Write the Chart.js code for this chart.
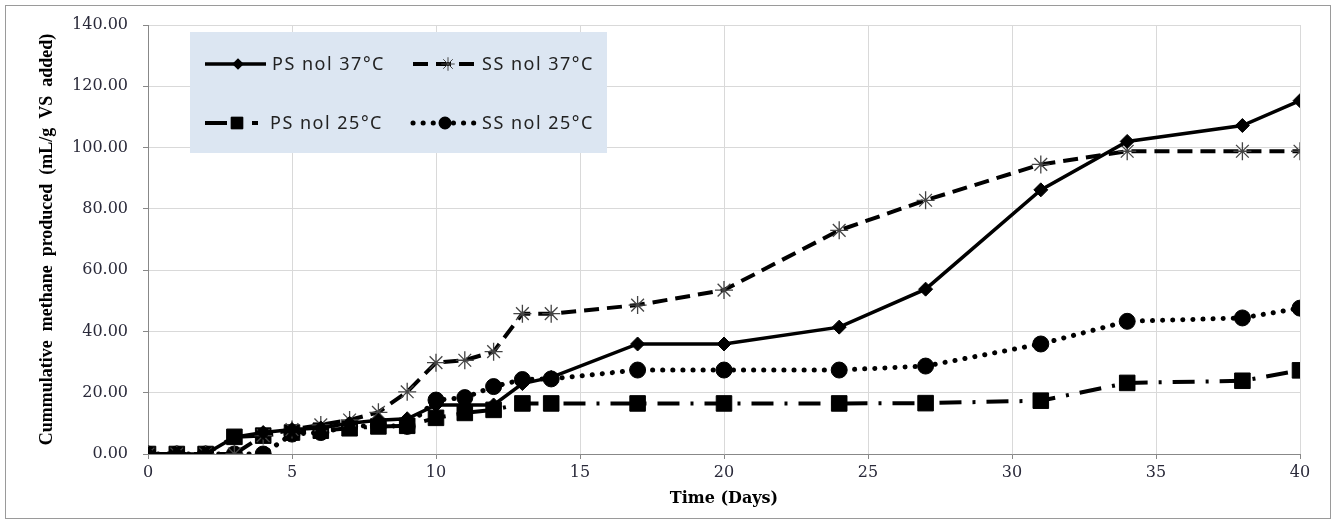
<!DOCTYPE html>
<html>
<head>
<meta charset="utf-8">
<script src="https://cdn.jsdelivr.net/npm/chart.js@4/dist/chart.umd.min.js"></script>
<style>
  html, body { margin: 0; padding: 0; background: #fff; }
  #wrap { width: 1336px; height: 524px; position: relative; }
</style>
</head>
<body>
<div id="wrap"><canvas id="methaneChart" width="1336" height="524"></canvas></div>
<script>
// ---- Data ----
const days  = [0, 1, 2, 3, 4, 5, 6, 7, 8, 9, 10, 11, 12, 13, 14, 17, 20, 24, 27, 31, 34, 38, 40];
const ps37  = [0, 0, 0, 5.5, 7, 8, 8.5, 10, 11, 11.5, 16, 16, 16, 23, 25, 35.9, 35.9, 41.4, 53.8, 86.2, 102, 107.2, 115.3];
const ss37  = [0, 0, 0, 0, 6, 8, 9.5, 11.1, 13.6, 20.3, 29.8, 30.6, 33.4, 45.8, 45.8, 48.6, 53.5, 73, 82.8, 94.5, 98.8, 98.8, 98.8];
const ps25  = [0, 0, 0, 5.6, 6, 7, 7.6, 8.4, 9, 9.2, 11.8, 13.4, 14.4, 16.5, 16.5, 16.5, 16.5, 16.5, 16.6, 17.4, 23.2, 23.9, 27.3];
const ss25  = [0, 0, 0, 0, 0, 6.5, 7, 9, 9.3, 9, 17.6, 18.4, 22, 24.3, 24.5, 27.4, 27.4, 27.4, 28.7, 35.9, 43.3, 44.4, 47.6];
const yTicks = [0, 20, 40, 60, 80, 100, 120, 140];

const toXY = arr => days.map((d, i) => ({ x: d, y: arr[i] }));

const series = [
  { label: 'PS nol 37°C', data: ps37, dash: [], width: 3.5, pointStyle: 'rectRot', radius: 7, pointColor: '#000', pointBorder: 1 },
  { label: 'SS nol 37°C', data: ss37, dash: [15, 8], width: 4, pointStyle: 'star', radius: 9, pointColor: '#444', pointBorder: 1.3 },
  { label: 'PS nol 25°C', data: ps25, dash: [22, 11, 3, 11], width: 4, pointStyle: 'rect', radius: 11, pointColor: '#000', pointBorder: 1 },
  { label: 'SS nol 25°C', data: ss25, dash: [0.1, 10], width: 5, pointStyle: 'circle', radius: 8, pointColor: '#000', pointBorder: 1, cap: 'round' }
];

// legend sample layout: line start, line end, marker x, text x, row y
const legendSlots = [
  { x0: 205, x1: 266, mx: 238, tx: 272, y: 64 },
  { x0: 413, x1: 477, mx: 448, tx: 482, y: 64 },
  { x0: 205, x1: 258, mx: 237, tx: 270, y: 123 },
  { x0: 413, x1: 477, mx: 445, tx: 482, y: 123 }
];

// ---- Custom legend box + outer frame ----
const legendBox = {
  id: 'legendBox',
  beforeDraw(chart) {
    const ctx = chart.ctx;
    ctx.save();
    ctx.strokeStyle = '#9a9a9a';
    ctx.lineWidth = 1;
    ctx.strokeRect(5.5, 5.5, 1325, 513);
    ctx.restore();
  },
  afterDraw(chart) {
    const ctx = chart.ctx;
    ctx.save();
    ctx.fillStyle = '#dce6f2';
    ctx.fillRect(190, 32, 417, 121);
    series.forEach((s, i) => {
      const p = legendSlots[i];
      ctx.save();
      ctx.strokeStyle = '#000';
      ctx.lineWidth = s.width;
      ctx.lineCap = s.cap || 'butt';
      ctx.setLineDash(s.dash);
      ctx.beginPath();
      ctx.moveTo(p.x0, p.y);
      ctx.lineTo(p.x1, p.y);
      ctx.stroke();
      ctx.restore();
      ctx.save();
      ctx.fillStyle = s.pointColor;
      ctx.strokeStyle = s.pointColor;
      Chart.helpers.drawPoint(ctx, {
        pointStyle: s.pointStyle, radius: s.radius * 0.75, rotation: 0, borderWidth: s.pointBorder
      }, p.mx, p.y);
      ctx.fill();
      ctx.restore();
      ctx.save();
      ctx.fillStyle = '#222';
      ctx.font = '18px "Noto Sans", sans-serif';
      ctx.letterSpacing = '1.5px';
      ctx.textBaseline = 'middle';
      ctx.fillText(s.label, p.tx, p.y + 1);
      ctx.restore();
    });
    ctx.restore();
  }
};

new Chart(document.getElementById('methaneChart'), {
  type: 'line',
  data: {
    datasets: series.map(s => ({
      label: s.label,
      data: toXY(s.data),
      borderColor: '#000',
      borderWidth: s.width,
      borderDash: s.dash,
      borderCapStyle: s.cap || 'butt',
      pointStyle: s.pointStyle,
      pointRadius: s.radius,
      pointBackgroundColor: s.pointColor,
      pointBorderColor: s.pointColor,
      pointBorderWidth: s.pointBorder,
      tension: 0,
      fill: false
    }))
  },
  plugins: [legendBox],
  options: {
    responsive: false,
    animation: false,
    layout: { padding: { left: 8, right: 36, top: 25, bottom: 8 } },
    plugins: { legend: { display: false }, tooltip: { enabled: false } },
    scales: {
      x: {
        type: 'linear',
        min: 0, max: 40,
        afterFit: s => { s.height = 62; },
        ticks: { stepSize: 5, color: '#2a2a3a', font: { family: '"DejaVu Serif", serif', size: 16 }, padding: 4 },
        grid: { color: '#d9d9d9', tickLength: 5, tickColor: '#888' },
        border: { color: '#888' },
        title: {
          display: true, text: 'Time (Days)', color: '#000',
          font: { family: '"DejaVu Serif", serif', size: 16, weight: 'bold' },
          padding: { top: 2, bottom: 8 }
        }
      },
      y: {
        min: 0, max: 140,
        afterFit: s => { s.width = 140; },
        afterBuildTicks: s => { s.ticks = yTicks.map(v => ({ value: v })); },
        ticks: {
          color: '#2a2a3a', font: { family: '"DejaVu Serif", serif', size: 16 }, padding: 15,
          callback: v => v.toFixed(2)
        },
        grid: { color: '#d9d9d9', tickLength: 5, tickColor: '#888' },
        border: { color: '#888' },
        title: {
          display: true,
          text: 'Cummulative  methane  produced  (mL/g  VS  added)',
          color: '#000',
          font: { family: '"Liberation Serif", serif', size: 18, weight: 'bold' },
          padding: { top: 29 }
        }
      }
    }
  }
});
</script>
</body>
</html>
